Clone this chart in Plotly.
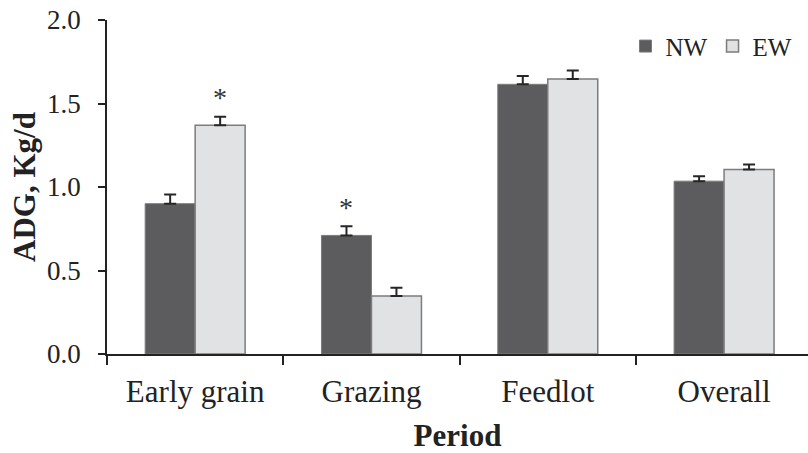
import plotly.graph_objects as go

# Average daily gain by period for the two weaning groups
periods = ["Early grain", "Grazing", "Feedlot", "Overall"]
nw_adg = [0.90, 0.71, 1.615, 1.035]
nw_se = [0.055, 0.055, 0.05, 0.03]
ew_adg = [1.37, 0.347, 1.647, 1.105]
ew_se = [0.05, 0.05, 0.05, 0.03]
# significance markers per period and group
nw_sig = [False, True, False, False]
ew_sig = [True, False, False, False]
y_ticks = [0.0, 0.5, 1.0, 1.5, 2.0]

FONT = "Liberation Serif, Times New Roman, serif"
INK = "#222222"
NW_COLOR = "#5c5c5e"
EW_COLOR = "#e1e2e4"
EDGE = "#7c7c7c"

fig = go.Figure()
fig.add_trace(go.Bar(
    name="NW", x=periods, y=nw_adg,
    marker=dict(color=NW_COLOR, line=dict(color=EDGE, width=1)),
    error_y=dict(type="data", array=nw_se, arrayminus=[0] * len(nw_se),
                 symmetric=False, color="#262626", thickness=2, width=6),
))
fig.add_trace(go.Bar(
    name="EW", x=periods, y=ew_adg,
    marker=dict(color=EW_COLOR, line=dict(color=EDGE, width=1.5)),
    error_y=dict(type="data", array=ew_se, arrayminus=[0] * len(ew_se),
                 symmetric=False, color="#262626", thickness=2, width=6),
))

bargap = 0.433
half = (1 - bargap) / 4  # offset of each bar centre from the category centre
star_pad = 0.115
star_font = dict(family=FONT, size=28, color="#333")
annotations = []
for i in range(len(periods)):
    if nw_sig[i]:
        annotations.append(dict(x=i - half, y=nw_adg[i] + nw_se[i] + star_pad,
                                xref="x", yref="y", yanchor="middle", text="*",
                                showarrow=False, font=star_font))
    if ew_sig[i]:
        annotations.append(dict(x=i + half, y=ew_adg[i] + ew_se[i] + star_pad,
                                xref="x", yref="y", yanchor="middle", text="*",
                                showarrow=False, font=star_font))

fig.update_layout(
    width=808, height=453,
    margin=dict(l=107, r=0, t=20, b=99),
    paper_bgcolor="white", plot_bgcolor="white",
    barmode="group", bargap=bargap, bargroupgap=0,
    font=dict(family=FONT, color=INK),
    showlegend=True,
    legend=dict(orientation="h", x=0.985, xanchor="right", y=0.99, yanchor="top",
                font=dict(family=FONT, size=25, color=INK),
                itemwidth=30, tracegroupgap=0, bgcolor="rgba(0,0,0,0)"),
    annotations=annotations,
    xaxis=dict(
        type="category", range=[-0.5, 3.476],
        showline=True, linecolor=INK, linewidth=1.5,
        ticks="outside", tickson="boundaries", ticklen=9, tickwidth=1.5, tickcolor=INK,
        ticklabelstandoff=9,
        tickfont=dict(family=FONT, size=31, color=INK),
        showgrid=False, zeroline=False,
        title=dict(text="<b>Period</b>", font=dict(family=FONT, size=31, color=INK), standoff=16),
    ),
    yaxis=dict(
        range=[0, 2.0], tickvals=y_ticks, tickformat=".1f",
        showline=True, linecolor=INK, linewidth=1.5,
        ticks="outside", ticklen=7, tickwidth=1.5, tickcolor=INK,
        ticklabelstandoff=12,
        tickfont=dict(family=FONT, size=27, color=INK),
        showgrid=False, zeroline=False,
        title=dict(text="<b>ADG, Kg/d</b>", font=dict(family=FONT, size=31, color=INK), standoff=2),
    ),
)

fig.write_html("out.html")
